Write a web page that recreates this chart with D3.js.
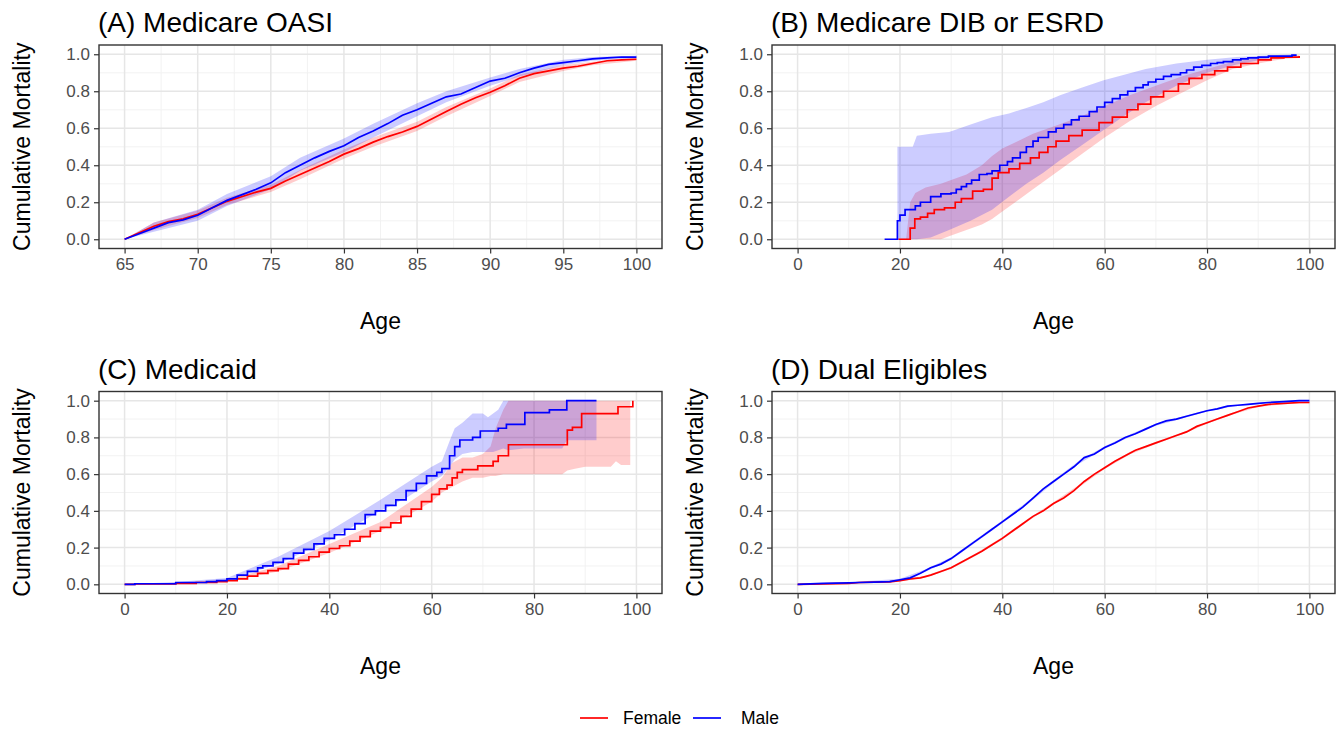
<!DOCTYPE html>
<html><head><meta charset="utf-8">
<script src="https://cdn.jsdelivr.net/npm/d3@7"></script>
<style>body{margin:0;background:#fff;}svg{display:block;font-family:"Liberation Sans",Arial,sans-serif;}</style>
</head><body>
<svg id="chart" width="1343" height="730"></svg>
<script>
// ---------- DATA ----------
const panelTitles = ["(A) Medicare OASI", "(B) Medicare DIB or ESRD", "(C) Medicaid", "(D) Dual Eligibles"];
const seriesNames = ["Female", "Male"];
const yTicks = [0, 0.2, 0.4, 0.6, 0.8, 1.0];
const yMinor = [0.1, 0.3, 0.5, 0.7, 0.9];
const xTicksA = [65, 70, 75, 80, 85, 90, 95, 100];
const xMinorA = [67.5, 72.5, 77.5, 82.5, 87.5, 92.5, 97.5];
const xTicksAll = [0, 20, 40, 60, 80, 100];
const xMinorAll = [10, 30, 50, 70, 90];

// (A) Medicare OASI
const oasiAge = [65,66,67,68,69,70,71,72,73,74,75,76,77,78,79,80,81,82,83,84,85,86,87,88,89,90,91,92,93,94,95,96,97,98,99,100];
const oasiFemale = [0,0.035,0.07,0.095,0.11,0.135,0.17,0.205,0.23,0.255,0.275,0.315,0.35,0.385,0.42,0.46,0.49,0.525,0.555,0.58,0.61,0.65,0.69,0.73,0.765,0.795,0.83,0.87,0.895,0.91,0.925,0.935,0.95,0.965,0.97,0.973];
const oasiMale = [0,0.03,0.06,0.09,0.105,0.13,0.17,0.21,0.24,0.27,0.305,0.36,0.40,0.44,0.475,0.505,0.55,0.585,0.625,0.67,0.70,0.735,0.77,0.785,0.82,0.855,0.87,0.90,0.925,0.945,0.955,0.965,0.975,0.98,0.985,0.985];
const oasiBandAge = [65,67,70,72,75,77,80,82,85,87,90,92,95,97,100];
const oasiFemaleLo = [0,0.05,0.115,0.185,0.255,0.325,0.435,0.50,0.585,0.665,0.775,0.85,0.91,0.94,0.965];
const oasiFemaleHi = [0,0.09,0.155,0.225,0.295,0.375,0.485,0.55,0.635,0.715,0.815,0.89,0.94,0.96,0.98];
const oasiMaleLo = [0,0.04,0.10,0.18,0.27,0.37,0.47,0.55,0.665,0.74,0.83,0.88,0.94,0.965,0.978];
const oasiMaleHi = [0,0.09,0.16,0.245,0.34,0.44,0.545,0.625,0.735,0.80,0.875,0.92,0.97,0.985,0.992];

// (B) Medicare DIB or ESRD
const dibMaleAge = [17,19.5,20,21,23,24,26,28,30,31,32,33,34,35.5,37,38,39.5,41,42,43.5,44.7,46,47,49,50.5,52,53.5,55,57,58.5,60,61.5,63,64.5,66,67.5,68.5,70,71.5,73,74.8,76,77.4,79,80.7,82,83.2,85,86.6,88,90,92,94,96.6,97.5];
const dibMale = [0,0.10,0.13,0.16,0.18,0.20,0.23,0.245,0.25,0.27,0.285,0.30,0.32,0.35,0.355,0.37,0.40,0.42,0.44,0.47,0.50,0.53,0.55,0.58,0.60,0.62,0.645,0.665,0.69,0.715,0.74,0.76,0.78,0.80,0.82,0.835,0.85,0.865,0.88,0.89,0.90,0.915,0.93,0.94,0.95,0.955,0.96,0.97,0.975,0.98,0.985,0.99,0.99,0.995,0.995];
const dibFemaleAge = [19.7,21.2,22,22.9,24,25.4,26.7,28.7,30.8,32,34.2,36.3,38,39.2,41.3,43.4,45.5,47.2,48.9,50.5,53,55.6,58.9,61.5,64.4,66.5,69,71.5,74.4,76.5,79,81.5,84,86.6,90,92.5,95,98];
const dibFemale = [0,0,0.06,0.11,0.12,0.14,0.16,0.17,0.2,0.22,0.26,0.27,0.33,0.36,0.38,0.41,0.44,0.47,0.5,0.53,0.56,0.59,0.63,0.66,0.7,0.73,0.77,0.8,0.84,0.87,0.89,0.91,0.93,0.95,0.97,0.98,0.985,0.99];
const dibMaleBandAge = [19.5,22.5,23.3,26,29.6,33.8,38,41.3,44.7,48,51.4,55.6,59.8,64,68,74,80,85.8,92.5,97.5];
const dibMaleHi = [0.5,0.5,0.56,0.57,0.58,0.62,0.66,0.68,0.71,0.74,0.78,0.82,0.86,0.89,0.92,0.95,0.97,0.985,0.995,1.0];
const dibMaleLo = [0,0,0,0.01,0.05,0.10,0.16,0.23,0.30,0.36,0.43,0.51,0.59,0.67,0.74,0.83,0.90,0.945,0.98,0.99];
const dibFemaleBandAge = [21.2,22,23,25,28,30,33,36,38,40,43,46,50,55,60,65,70,75,80,85,90,95,98];
const dibFemaleHi = [0,0.2,0.25,0.28,0.3,0.32,0.35,0.4,0.45,0.49,0.53,0.57,0.61,0.66,0.72,0.78,0.83,0.88,0.92,0.96,0.98,0.99,0.995];
const dibFemaleLo = [0,0,0,0,0,0.02,0.05,0.08,0.11,0.15,0.21,0.27,0.35,0.45,0.55,0.64,0.72,0.79,0.86,0.92,0.95,0.975,0.98];

// (C) Medicaid
const medMaleAge = [0,2,10,16,18,20,22,24,26,27,29,31,33,35,37,39,41,43,45,47,49,51,53,55,57,59,61,62,63.5,64.5,65.5,67,68,69.5,72,73,74.6,77.2,78.2,82.6,83,85.5,86.4,92.2];
const medMale = [0,0.003,0.01,0.015,0.02,0.03,0.05,0.07,0.09,0.10,0.12,0.14,0.17,0.19,0.22,0.25,0.27,0.30,0.33,0.38,0.40,0.43,0.46,0.51,0.55,0.59,0.61,0.63,0.70,0.75,0.786,0.786,0.80,0.835,0.835,0.85,0.871,0.871,0.935,0.935,0.95,0.95,1.0,1.0];
const medFemaleAge = [0,2,10,14,18,20,22,24,26,28,30,32,34,36,38,40,42,44,46,48,50,52,54,56,58,60,61.5,63,64,65,66,68,69,71,72,73,74,75,85.9,86.5,87.5,88.5,89.3,95.6,96.4,98.5,99.3];
const medFemale = [0,0.002,0.005,0.01,0.015,0.02,0.03,0.045,0.06,0.075,0.085,0.11,0.13,0.15,0.175,0.195,0.21,0.235,0.26,0.29,0.31,0.335,0.37,0.41,0.45,0.49,0.52,0.54,0.58,0.61,0.625,0.625,0.645,0.645,0.67,0.70,0.70,0.76,0.76,0.84,0.855,0.855,0.93,0.93,0.967,0.967,1.0];
const medMaleBandAge = [0,10,20,30,40,50,55,60,62,63.5,64.5,66,68,70,71,72,73,74,75,78,82,85.5,86.4,92.2];
const medMaleHi = [0,0.012,0.035,0.15,0.29,0.46,0.55,0.64,0.67,0.78,0.85,0.88,0.93,0.93,0.91,0.93,0.95,1.0,1.0,1.0,1.0,1.0,1.0,1.0];
const medMaleLo = [0,0.005,0.022,0.11,0.24,0.40,0.47,0.56,0.59,0.64,0.68,0.71,0.72,0.72,0.72,0.72,0.73,0.74,0.73,0.74,0.74,0.74,0.785,0.785];
const medFemaleBandAge = [0,10,20,30,40,50,60,62,64,66,68,70,71.5,72.5,74,75,80,85.5,86.5,88,90,95,96,97,98,98.8];
const medFemaleHi = [0,0.008,0.025,0.10,0.22,0.34,0.53,0.58,0.66,0.69,0.69,0.71,0.75,0.85,0.95,1.0,1.0,1.0,1.0,1.0,1.0,1.0,1.0,1.0,1.0,1.0];
const medFemaleLo = [0,0.002,0.015,0.07,0.17,0.29,0.45,0.50,0.53,0.56,0.58,0.58,0.59,0.59,0.60,0.60,0.60,0.60,0.62,0.63,0.64,0.64,0.67,0.65,0.65,0.65];

// (D) Dual Eligibles
const dualAge = [0,5,10,12,15,18,20,22,24,26,28,30,32,34,36,38,40,42,44,46,48,50,52,54,56,58,60,62,64,66,68,70,72,74,76,78,80,82,84,86,88,90,92,95,98,100];
const dualMale = [0,0.005,0.008,0.01,0.012,0.015,0.025,0.035,0.06,0.09,0.11,0.14,0.18,0.22,0.26,0.30,0.34,0.38,0.42,0.47,0.52,0.56,0.60,0.64,0.69,0.71,0.745,0.77,0.80,0.82,0.845,0.87,0.89,0.90,0.915,0.93,0.945,0.955,0.97,0.975,0.98,0.985,0.99,0.995,1.0,1.0];
const dualFemale = [0,0.002,0.005,0.01,0.012,0.013,0.02,0.03,0.035,0.05,0.07,0.09,0.12,0.15,0.18,0.215,0.25,0.29,0.33,0.37,0.40,0.44,0.47,0.51,0.56,0.60,0.635,0.67,0.70,0.73,0.75,0.77,0.79,0.81,0.83,0.86,0.88,0.90,0.92,0.94,0.96,0.97,0.98,0.985,0.99,0.99];
const dualBandAge = [0,10,20,25,30,35,40,45,50,55,60,65,70,75,80,85,90,95,100];
const dualMaleLo = [0,0.005,0.02,0.068,0.132,0.232,0.332,0.437,0.552,0.657,0.738,0.803,0.864,0.902,0.941,0.968,0.982,0.992,0.997];
const dualMaleHi = [0,0.011,0.03,0.082,0.148,0.248,0.348,0.453,0.568,0.673,0.752,0.817,0.876,0.912,0.949,0.976,0.988,0.998,1.0];
const dualFemaleLo = [0,0.003,0.016,0.037,0.084,0.158,0.243,0.343,0.433,0.528,0.628,0.708,0.764,0.814,0.875,0.925,0.966,0.981,0.986];
const dualFemaleHi = [0,0.007,0.024,0.047,0.096,0.172,0.257,0.357,0.447,0.542,0.642,0.722,0.776,0.826,0.885,0.935,0.974,0.989,0.994];

// ---------- BUILD ----------
const zip = (xs, ys) => xs.map((x, i) => ({x, y: ys[i]}));
const zipBand = (xs, lo, hi) => xs.map((x, i) => ({x, lo: lo[i], hi: hi[i]}));

const colors = {Female: "#ff0000", Male: "#0000ff"};
const FONT = '"Liberation Sans", Arial, sans-serif';

const panels = [
  {title: panelTitles[0], box: [99, 45, 662, 248.5], xDomain: [63.25, 101.75], xTicks: xTicksA, xMinor: xMinorA, curve: d3.curveLinear,
   series: [{name: "Female", line: zip(oasiAge, oasiFemale), band: zipBand(oasiBandAge, oasiFemaleLo, oasiFemaleHi)},
            {name: "Male", line: zip(oasiAge, oasiMale), band: zipBand(oasiBandAge, oasiMaleLo, oasiMaleHi)}]},
  {title: panelTitles[1], box: [772, 45, 1335, 248.5], xDomain: [-5, 105], xTicks: xTicksAll, xMinor: xMinorAll, curve: d3.curveStepAfter,
   series: [{name: "Female", line: zip(dibFemaleAge, dibFemale), band: zipBand(dibFemaleBandAge, dibFemaleLo, dibFemaleHi)},
            {name: "Male", line: zip(dibMaleAge, dibMale), band: zipBand(dibMaleBandAge, dibMaleLo, dibMaleHi)}]},
  {title: panelTitles[2], box: [99, 391.5, 662, 593.5], xDomain: [-5, 105], xTicks: xTicksAll, xMinor: xMinorAll, curve: d3.curveStepAfter,
   series: [{name: "Female", line: zip(medFemaleAge, medFemale), band: zipBand(medFemaleBandAge, medFemaleLo, medFemaleHi)},
            {name: "Male", line: zip(medMaleAge, medMale), band: zipBand(medMaleBandAge, medMaleLo, medMaleHi)}]},
  {title: panelTitles[3], box: [772, 391.5, 1335, 593.5], xDomain: [-5, 105], xTicks: xTicksAll, xMinor: xMinorAll, curve: d3.curveLinear,
   series: [{name: "Female", line: zip(dualAge, dualFemale), band: zipBand(dualBandAge, dualFemaleLo, dualFemaleHi)},
            {name: "Male", line: zip(dualAge, dualMale), band: zipBand(dualBandAge, dualMaleLo, dualMaleHi)}]}
];

const svg = d3.select("#chart");
const fmt = d3.format(".1f");

panels.forEach((p, idx) => {
  const [x0, y0, x1, y1] = p.box;
  const x = d3.scaleLinear().domain(p.xDomain).range([x0, x1]);
  const y = d3.scaleLinear().domain([-0.05, 1.05]).range([y1, y0]);
  const g = svg.append("g");

  g.append("rect").attr("x", x0).attr("y", y0).attr("width", x1 - x0).attr("height", y1 - y0).attr("fill", "#fff");
  const clipId = "clip" + idx;
  g.append("clipPath").attr("id", clipId).append("rect")
    .attr("x", x0).attr("y", y0).attr("width", x1 - x0).attr("height", y1 - y0);

  // grid
  const grid = g.append("g");
  grid.selectAll(".xm").data(p.xMinor).join("line").attr("class", "xm")
    .attr("x1", d => x(d)).attr("x2", d => x(d)).attr("y1", y0).attr("y2", y1)
    .attr("stroke", "#f0f0f0").attr("stroke-width", 0.9);
  grid.selectAll(".ym").data(yMinor).join("line").attr("class", "ym")
    .attr("y1", d => y(d)).attr("y2", d => y(d)).attr("x1", x0).attr("x2", x1)
    .attr("stroke", "#f0f0f0").attr("stroke-width", 0.9);
  grid.selectAll(".xM").data(p.xTicks).join("line").attr("class", "xM")
    .attr("x1", d => x(d)).attr("x2", d => x(d)).attr("y1", y0).attr("y2", y1)
    .attr("stroke", "#e6e6e6").attr("stroke-width", 1.5);
  grid.selectAll(".yM").data(yTicks).join("line").attr("class", "yM")
    .attr("y1", d => y(d)).attr("y2", d => y(d)).attr("x1", x0).attr("x2", x1)
    .attr("stroke", "#e6e6e6").attr("stroke-width", 1.5);

  const plot = g.append("g").attr("clip-path", `url(#${clipId})`);
  p.series.forEach(s => {
    const area = d3.area().x(d => x(d.x)).y0(d => y(d.lo)).y1(d => y(d.hi)).curve(d3.curveLinear);
    plot.append("path").datum(s.band).attr("d", area)
      .attr("fill", colors[s.name]).attr("fill-opacity", 0.2);
  });
  p.series.forEach(s => {
    const line = d3.line().x(d => x(d.x)).y(d => y(d.y)).curve(p.curve);
    plot.append("path").datum(s.line).attr("d", line)
      .attr("fill", "none").attr("stroke", colors[s.name]).attr("stroke-width", 1.7);
  });

  // border
  g.append("rect").attr("x", x0).attr("y", y0).attr("width", x1 - x0).attr("height", y1 - y0)
    .attr("fill", "none").attr("stroke", "#333333").attr("stroke-width", 1.4);

  // axes
  const xAxis = d3.axisBottom(x).tickValues(p.xTicks).tickSize(5).tickPadding(4);
  const gx = g.append("g").attr("transform", `translate(0,${y1})`).call(xAxis);
  const yAxis = d3.axisLeft(y).tickValues(yTicks).tickFormat(fmt).tickSize(5).tickPadding(4);
  const gy = g.append("g").attr("transform", `translate(${x0},0)`).call(yAxis);
  [gx, gy].forEach(a => {
    a.select(".domain").remove();
    a.selectAll(".tick line").attr("stroke", "#333333").attr("stroke-width", 1.2);
    a.selectAll(".tick text").attr("fill", "#4d4d4d").style("font-size", "17px").style("font-family", FONT);
  });

  // titles
  g.append("text").attr("x", x0 - 1).attr("y", y0 - 13).text(p.title)
    .style("font-size", "28px").attr("fill", "#000");
  g.append("text").attr("x", (x0 + x1) / 2).attr("y", y1 + 80).attr("text-anchor", "middle")
    .text("Age").style("font-size", "23px").attr("fill", "#000");
  g.append("text").attr("transform", `translate(${x0 - 69},${(y0 + y1) / 2}) rotate(-90)`)
    .attr("text-anchor", "middle").text("Cumulative Mortality").style("font-size", "23px").attr("fill", "#000");
});

// legend
const leg = svg.append("g");
const legendItems = [{name: seriesNames[0], lx: 580, tx: 623}, {name: seriesNames[1], lx: 693, tx: 741}];
legendItems.forEach(it => {
  leg.append("line").attr("x1", it.lx).attr("x2", it.lx + 28).attr("y1", 718).attr("y2", 718)
    .attr("stroke", colors[it.name]).attr("stroke-width", 1.7);
  leg.append("text").attr("x", it.tx).attr("y", 724).text(it.name).style("font-size", "17.5px").attr("fill", "#000");
});
</script>
</body></html>
